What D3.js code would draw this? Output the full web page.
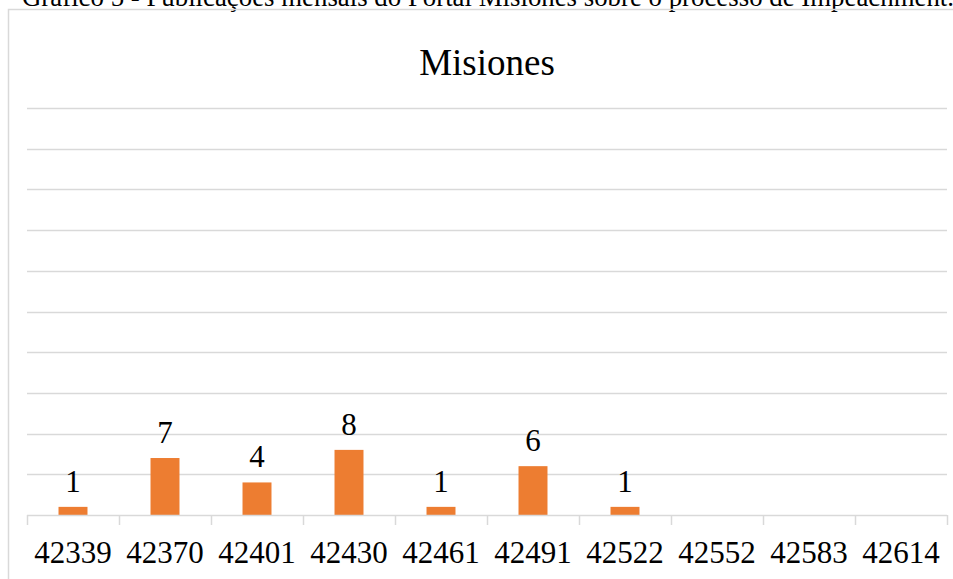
<!DOCTYPE html>
<html>
<head>
<meta charset="utf-8">
<script src="https://cdn.jsdelivr.net/npm/d3@7"></script>
<style>
  html, body { margin: 0; padding: 0; background: #fff; overflow: hidden; }
  svg { display: block; }
  text { font-family: "Liberation Serif", "Times New Roman", serif; fill: #000; }
</style>
</head>
<body>
<svg id="chart" width="953" height="579"></svg>
<script>
// Monthly posts (month keys are spreadsheet date serials)
const months = ["42339", "42370", "42401", "42430", "42461", "42491", "42522", "42552", "42583", "42614"];
const posts = [1, 7, 4, 8, 1, 6, 1, null, null, null];
const yTicks = [0, 5, 10, 15, 20, 25, 30, 35, 40, 45, 50];
const caption = "Gráfico 5 - Publicações mensais do Portal Misiones sobre o processo de Impeachment.";
const title = "Misiones";

const svg = d3.select("#chart");
const W = 953, H = 579;
const plot = { left: 27, right: 947, top: 108, bottom: 515 };

// caption line above the chart frame (runs past the top and right edges)
svg.append("text")
  .attr("x", 22).attr("y", 6)
  .attr("textLength", 932)
  .attr("lengthAdjust", "spacingAndGlyphs")
  .style("font-size", "27px")
  .text(caption);

// chart frame
svg.append("rect")
  .attr("x", 8.5).attr("y", 9.5)
  .attr("width", W + 20).attr("height", H + 20)
  .attr("fill", "none")
  .attr("stroke", "#d9d9d9")
  .attr("stroke-width", 1.5);

const x = d3.scaleBand().domain(months).range([plot.left, plot.right]).paddingInner(0).paddingOuter(0);
const y = d3.scaleLinear().domain([0, 50]).range([plot.bottom, plot.top]);

// horizontal gridlines
svg.append("g")
  .selectAll("line")
  .data(yTicks.slice(1))
  .join("line")
  .attr("x1", plot.left).attr("x2", plot.right)
  .attr("y1", d => Math.round(y(d)) + 0.5).attr("y2", d => Math.round(y(d)) + 0.5)
  .attr("stroke", "#d9d9d9")
  .attr("stroke-width", 1.3);

// bars
const barW = x.bandwidth() * 0.315;
const data = months.map((m, i) => ({ m, v: posts[i] }));
svg.append("g")
  .selectAll("rect")
  .data(data.filter(d => d.v != null))
  .join("rect")
  .attr("x", d => x(d.m) + (x.bandwidth() - barW) / 2)
  .attr("width", barW)
  .attr("y", d => y(d.v))
  .attr("height", d => y(0) - y(d.v))
  .attr("fill", "#ed7d31");

// value labels
svg.append("g")
  .selectAll("text")
  .data(data.filter(d => d.v != null))
  .join("text")
  .attr("x", d => x(d.m) + x.bandwidth() / 2)
  .attr("y", d => y(d.v) - 15)
  .attr("text-anchor", "middle")
  .style("font-size", "31px")
  .text(d => d.v);

// category axis: baseline, tick marks between categories, labels
const xAxis = d3.axisBottom(x).tickSize(0).tickPadding(0);
const gx = svg.append("g").attr("transform", `translate(0,${plot.bottom})`).call(xAxis);
gx.select(".domain").remove();
gx.selectAll(".tick text")
  .attr("y", 48)
  .attr("dy", null)
  .style("font-size", "31px")
  .style("font-family", "'Liberation Serif', 'Times New Roman', serif")
  .attr("fill", "#000");

svg.append("line")
  .attr("x1", plot.left).attr("x2", plot.right)
  .attr("y1", plot.bottom + 0.5).attr("y2", plot.bottom + 0.5)
  .attr("stroke", "#d9d9d9").attr("stroke-width", 1.5);

const edges = months.map(m => x(m)).concat([plot.right]);
svg.append("g")
  .selectAll("line")
  .data(edges)
  .join("line")
  .attr("x1", d => Math.round(d) + 0.5).attr("x2", d => Math.round(d) + 0.5)
  .attr("y1", plot.bottom).attr("y2", plot.bottom + 10)
  .attr("stroke", "#d9d9d9").attr("stroke-width", 1.5);

// title
svg.append("text")
  .attr("x", (plot.left + plot.right) / 2)
  .attr("y", 75)
  .attr("text-anchor", "middle")
  .style("font-size", "37px")
  .text(title);
</script>
</body>
</html>
